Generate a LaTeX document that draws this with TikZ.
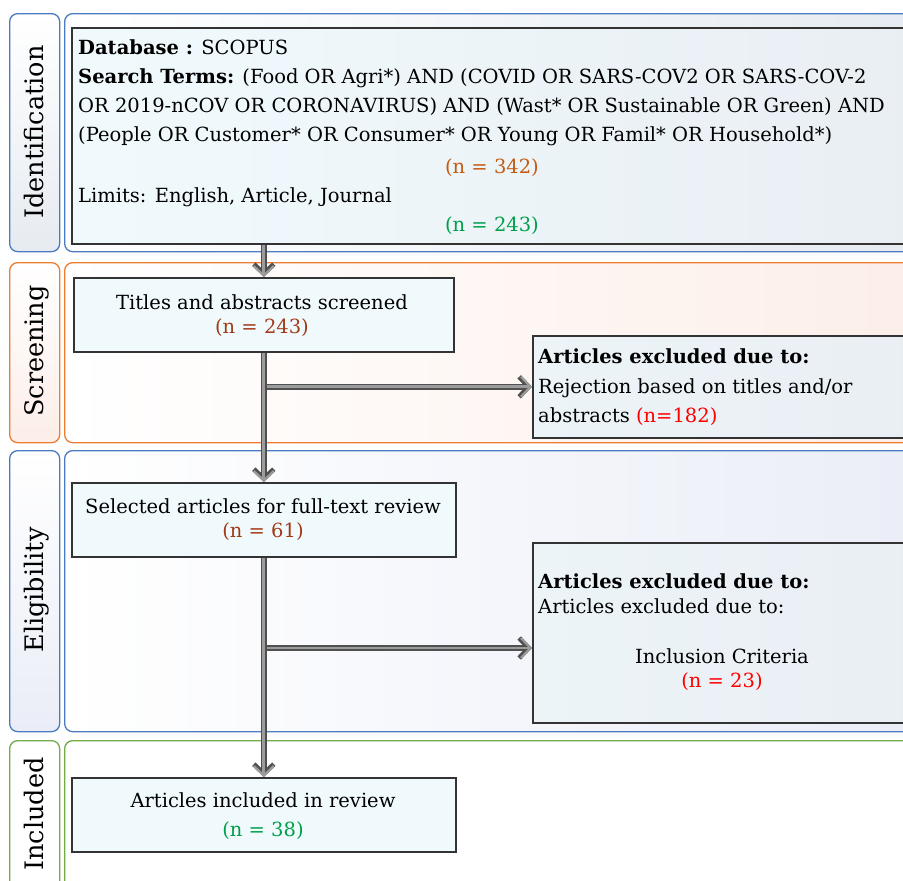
\documentclass[tikz,border=0pt]{standalone}
\usepackage{fontspec}
\setmainfont{DejaVu Serif}
\usetikzlibrary{arrows.meta}
\newcommand\bodyfont{\fontsize{19.5pt}{24pt}\selectfont}
\newcommand\lblfont{\fontsize{25.5pt}{30pt}\selectfont}
\definecolor{bluebd}{HTML}{4A7BC0}
\definecolor{orangebd}{HTML}{ED7D31}
\definecolor{greenbd}{HTML}{70AD47}
\definecolor{cyanfill}{HTML}{F0FAFD}
\definecolor{grayfill}{HTML}{E9EEF3}
\definecolor{idtint}{HTML}{E6EBF1}
\definecolor{sctint}{HTML}{FCEEE8}
\definecolor{eltint}{HTML}{EAEDF7}
\definecolor{nbrown}{HTML}{C55A11}
\definecolor{nred}{HTML}{A33A17}
\definecolor{ngreen}{HTML}{00A04A}
\definecolor{nbright}{HTML}{FF0000}
\definecolor{arrowbd}{HTML}{505050}
\definecolor{arrowin}{HTML}{9C9C9C}
\begin{document}
\begin{tikzpicture}[x=1pt,y=-1pt,
  lbl/.style={rounded corners=8pt, line width=1.3pt, anchor=north west, minimum width=50pt, inner sep=0pt},
  lane/.style={rounded corners=8pt, line width=1.3pt, anchor=north west, minimum width=880pt, inner sep=0pt},
  boxc/.style={draw=black!80, line width=1.6pt, anchor=north west, inner sep=0pt, fill=cyanfill},
  boxg/.style={draw=black!80, line width=1.6pt, anchor=north west, inner sep=0pt, left color=cyanfill!50!grayfill, right color=grayfill},
  txt/.style={inner sep=0pt, font=\bodyfont},
  lbltxt/.style={inner sep=0pt, rotate=90, anchor=base, font=\lblfont},
  flow/.style={draw=arrowbd, line width=5.6pt,
    -{Straight Barb[length=9.5pt, width=20pt, line width=4.8pt, sharp]},
    postaction={draw=arrowin, line width=2.8pt,
      -{Straight Barb[length=9.5pt, width=20pt, line width=2.2pt, sharp, sep=0pt]}}}
]
\useasboundingbox (0,0) rectangle (903,881);
\clip (0,0) rectangle (903,881);
\fill[white] (0,0) rectangle (903,881);

% lanes
\node[lbl, draw=bluebd, top color=white, bottom color=idtint, minimum height=238pt] (idl) at (9,13) {};
\node[lane, draw=bluebd, left color=white, right color=idtint, minimum height=238pt] (idc) at (64,13) {};
\node[lbl, draw=orangebd, top color=white, bottom color=sctint, minimum height=180pt] (scl) at (9,262) {};
\node[lane, draw=orangebd, left color=white, right color=sctint, minimum height=180pt] (scc) at (64,262) {};
\node[lbl, draw=bluebd, top color=white, bottom color=eltint, minimum height=281pt] (ell) at (9,450) {};
\node[lane, draw=bluebd, left color=white, right color=eltint, minimum height=281pt] (elc) at (64,450) {};
\node[lbl, draw=greenbd, fill=white, minimum height=170pt] (inl) at (9,740) {};
\node[lane, draw=greenbd, fill=white, minimum height=170pt] (inc2) at (64,740) {};

% lane labels
\node[lbltxt] (lidl) at (43,132) {Identification};
\node[lbltxt] (lscl) at (43,351) {Screening};
\node[lbltxt] (lell) at (43,590) {Eligibility};
\node[lbltxt] (linl) at (43,814) {Included};

% boxes
\node[boxg, left color=cyanfill, minimum width=860pt, minimum height=216pt] (db) at (71,27) {};
\node[boxc, minimum width=380pt, minimum height=74pt] (title) at (73,277) {};
\node[boxg, minimum width=400pt, minimum height=102pt] (excl1) at (532,335) {};
\node[boxc, minimum width=384pt, minimum height=74pt] (sel) at (71,482) {};
\node[boxg, minimum width=400pt, minimum height=180pt] (excl2) at (532,542) {};
\node[boxc, minimum width=384pt, minimum height=74pt] (inc) at (71,777) {};

% database texts
\node[txt, anchor=base west] (d1) at (78,54) {\textbf{Database :} SCOPUS};
\node[txt, anchor=base west] (d2) at (78,83) {\textbf{Search Terms:} (Food OR Agri*) AND (COVID OR SARS-COV2 OR SARS-COV-2};
\node[txt, anchor=base west] (d3) at (78,112) {OR 2019-nCOV OR CORONAVIRUS) AND (Wast* OR Sustainable OR Green) AND};
\node[txt, anchor=base west] (d4) at (78,141) {(People OR Customer* OR Consumer* OR Young OR Famil* OR Household*)};
\node[txt, anchor=base, text=nbrown] (d5) at (492,173) {(n = 342)};
\node[txt, anchor=base west] (d6) at (78,202) {Limits: English, Article, Journal};
\node[txt, anchor=base, text=ngreen] (d7) at (492,231) {(n = 243)};

% titles
\node[txt, anchor=base] (t1) at (262,309) {Titles and abstracts screened};
\node[txt, anchor=base, text=nred] (t2) at (262,333) {(n = 243)};

% excl1
\node[txt, anchor=base west] (e1) at (538,363) {\textbf{Articles excluded due to:}};
\node[txt, anchor=base west] (e2) at (538,393) {Rejection based on titles and/or};
\node[txt, anchor=base west] (e3) at (538,422) {abstracts \textcolor{nbright}{(n=182)}};

% selected
\node[txt, anchor=base] (s1) at (263,513) {Selected articles for full-text review};
\node[txt, anchor=base, text=nred] (s2) at (263,537) {(n = 61)};

% excl2
\node[txt, anchor=base west] (f1) at (538,588) {\textbf{Articles excluded due to:}};
\node[txt, anchor=base west] (f2) at (538,613) {Articles excluded due to:};
\node[txt, anchor=base] (f3) at (722,663) {Inclusion Criteria};
\node[txt, anchor=base, text=nbright] (f4) at (722,687) {(n = 23)};

% included
\node[txt, anchor=base] (i1) at (263,807) {Articles included in review};
\node[txt, anchor=base, text=ngreen] (i2) at (263,836) {(n = 38)};

% connectors
\draw[flow] (title.south |- excl1.west) -- (excl1.west);
\coordinate (b2) at (263,648);
\draw[flow] (b2) -- (b2 -| excl2.west);
\draw[flow] (db.south -| title.north) -- (title.north);
\draw[flow] (title.south) -- (title.south |- sel.north);
\draw[flow] (sel.south) -- (inc.north);
\end{tikzpicture}
\end{document}
